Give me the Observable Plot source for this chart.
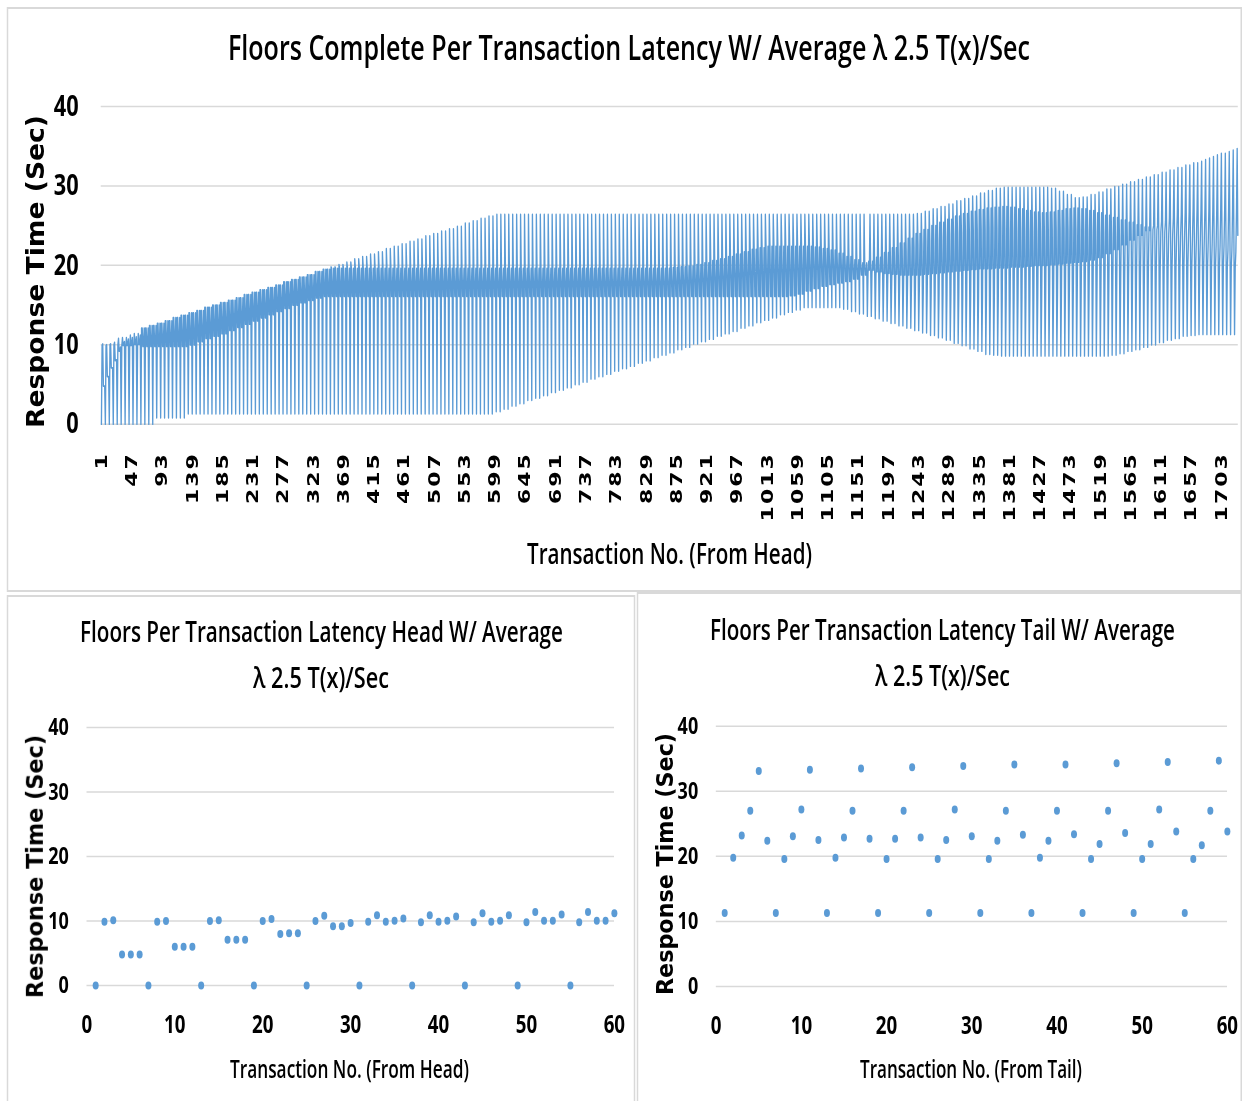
<!DOCTYPE html>
<html>
<head>
<meta charset="utf-8">
<script src="https://cdn.jsdelivr.net/npm/d3@7"></script>
<script src="https://cdn.jsdelivr.net/npm/@observablehq/plot@0.6"></script>
<style>
  html, body { margin: 0; padding: 0; background: #fff; overflow: hidden; }
  /* the figure is laid out wide and then compressed horizontally */
  #page { position: absolute; left: 0; top: 0; width: 1657.33px; height: 1101px;
          transform: scaleX(0.75); transform-origin: 0 0; }
  .panel { position: absolute; border: 2px solid #d9d9d9; box-sizing: border-box; }
  .chart { position: absolute; }
  .chart svg { overflow: visible; }
  #labels { position: absolute; left: 0; top: 0; overflow: visible; }
</style>
</head>
<body>
<div id="page">
  <div class="panel" style="left:9.33px;top:7px;width:1646.67px;height:585px"></div>
  <div class="panel" style="left:9.33px;top:595px;width:837.33px;height:520px"></div>
  <div class="panel" style="left:849.33px;top:592px;width:806.67px;height:520px"></div>
</div>
<script>
// ---------------------------------------------------------------
// Response time (sec) of the first 60 transactions, from the head
const headLatency = [
  0, 9.9, 10.1, 4.8, 4.8, 4.8,
  0, 9.9, 10.0, 6.0, 6.0, 6.0,
  0, 10.0, 10.1, 7.1, 7.1, 7.1,
  0, 10.0, 10.3, 8.0, 8.1, 8.1,
  0, 10.0, 10.8, 9.2, 9.2, 9.7,
  0, 9.9, 10.9, 9.9, 10.05, 10.4,
  0, 9.8, 10.9, 9.9, 10.05, 10.7,
  0, 9.8, 11.2, 9.9, 10.05, 10.9,
  0, 9.8, 11.4, 10.05, 10.05, 11.0,
  0, 9.8, 11.4, 10.05, 10.05, 11.2
];

// Response time (sec) of the last 60 transactions, from the tail
const tailLatency = [
  11.3, 19.8, 23.2, 27.0, 33.1, 22.4,
  11.3, 19.6, 23.1, 27.2, 33.3, 22.5,
  11.3, 19.8, 22.9, 27.0, 33.5, 22.7,
  11.3, 19.6, 22.7, 27.0, 33.7, 22.9,
  11.3, 19.6, 22.5, 27.2, 33.9, 23.1,
  11.3, 19.6, 22.4, 27.0, 34.1, 23.3,
  11.3, 19.8, 22.4, 27.0, 34.1, 23.4,
  11.3, 19.6, 21.9, 27.0, 34.3, 23.6,
  11.3, 19.6, 21.9, 27.2, 34.5, 23.8,
  11.3, 19.6, 21.7, 27.0, 34.7, 23.8
];

// Transactions 61..1668 arrive in cycles of six; the values below are one
// reading per pair of cycles (12 transactions), 134 pairs in all.

// first transaction of every cycle: the fastest floor (all 134 pairs)
const floorMin = [
  0, 0, 0.8, 0.8, 0.8, 0.8, 1.3, 1.3, 1.3, 1.3,
  1.3, 1.3, 1.3, 1.3, 1.3, 1.3, 1.3, 1.3, 1.3, 1.3,
  1.3, 1.3, 1.3, 1.3, 1.3, 1.3, 1.3, 1.3, 1.3, 1.3,
  1.3, 1.3, 1.3, 1.3, 1.3, 1.3, 1.3, 1.3, 1.3, 1.3,
  1.3, 1.3, 1.3, 1.3, 1.3, 1.6, 1.9, 2.3, 2.6, 3.0,
  3.3, 3.6, 4.0, 4.3, 4.6, 5.0, 5.3, 5.7, 6.0, 6.3,
  6.7, 7.0, 7.3, 7.7, 8.0, 8.4, 8.7, 9.0, 9.4, 9.7,
  10.1, 10.4, 10.7, 11.1, 11.4, 11.7, 12.1, 12.4, 12.8, 13.1,
  13.4, 13.8, 14.1, 14.4, 14.7, 14.7, 14.7, 14.7, 14.7, 14.5,
  14.2, 13.9, 13.6, 13.3, 13.0, 12.7, 12.4, 12.1, 11.8, 11.5,
  11.2, 10.9, 10.6, 10.2, 9.9, 9.5, 9.2, 8.8, 8.7, 8.6,
  8.6, 8.6, 8.6, 8.6, 8.6, 8.6, 8.6, 8.6, 8.6, 8.6,
  8.6, 8.6, 8.6, 8.7, 8.9, 9.2, 9.4, 9.7, 10.0, 10.3,
  10.6, 10.8, 11.1, 11.2
];

// pairs 0..91: slowest floor of the cycle, and the dense band it returns to
const midTop = [
  12.1, 12.4, 12.7, 13.0, 13.4, 13.7, 14.0, 14.3, 14.7, 15.0,
  15.3, 15.6, 15.9, 16.3, 16.6, 16.9, 17.2, 17.5, 17.9, 18.2,
  18.5, 18.8, 19.2, 19.5, 19.8, 20.1, 20.4, 20.8, 21.1, 21.4,
  21.7, 22.1, 22.4, 22.7, 23.0, 23.3, 23.7, 24.0, 24.3, 24.6,
  24.9, 25.3, 25.6, 25.9, 26.2, 26.4, 26.4, 26.4, 26.4, 26.4,
  26.4, 26.4, 26.4, 26.4, 26.4, 26.4, 26.4, 26.4, 26.4, 26.4,
  26.4, 26.4, 26.4, 26.4, 26.4, 26.4, 26.4, 26.4, 26.4, 26.4,
  26.4, 26.4, 26.4, 26.4, 26.4, 26.4, 26.4, 26.4, 26.4, 26.4,
  26.4, 26.4, 26.4, 26.4, 26.4, 26.4, 26.4, 26.4, 26.4, 26.4,
  26.4, 26.4
];
const bandHigh = [
  12.1, 12.4, 12.7, 13.0, 13.4, 13.7, 14.0, 14.3, 14.7, 15.0,
  15.3, 15.6, 15.9, 16.3, 16.6, 16.9, 17.2, 17.5, 17.9, 18.2,
  18.5, 18.8, 19.2, 19.5, 19.6, 19.6, 19.6, 19.6, 19.6, 19.6,
  19.6, 19.6, 19.6, 19.6, 19.6, 19.6, 19.6, 19.6, 19.6, 19.6,
  19.6, 19.6, 19.6, 19.6, 19.6, 19.6, 19.6, 19.6, 19.6, 19.6,
  19.6, 19.6, 19.6, 19.6, 19.6, 19.6, 19.6, 19.6, 19.6, 19.6,
  19.6, 19.6, 19.6, 19.6, 19.6, 19.6, 19.6, 19.7, 19.8, 19.9,
  20.1, 20.3, 20.6, 20.8, 21.1, 21.4, 21.7, 22.0, 22.2, 22.4,
  22.4, 22.4, 22.4, 22.4, 22.4, 22.3, 22.1, 21.9, 21.5, 21.1,
  20.7, 20.3
];
const bandLow = [
  9.8, 9.8, 9.8, 9.8, 9.8, 9.8, 10.0, 10.4, 10.8, 11.1,
  11.4, 11.8, 12.2, 12.6, 13.0, 13.4, 13.8, 14.2, 14.6, 15.0,
  15.3, 15.6, 15.9, 16.1, 16.1, 16.1, 16.1, 16.1, 16.1, 16.1,
  16.1, 16.1, 16.1, 16.1, 16.1, 16.1, 16.1, 16.1, 16.1, 16.1,
  16.1, 16.1, 16.1, 16.1, 16.1, 16.1, 16.1, 16.1, 16.1, 16.1,
  16.1, 16.1, 16.1, 16.1, 16.1, 16.1, 16.1, 16.1, 16.1, 16.1,
  16.1, 16.1, 16.1, 16.1, 16.1, 16.1, 16.1, 16.1, 16.1, 16.1,
  16.1, 16.1, 16.1, 16.1, 16.1, 16.1, 16.1, 16.1, 16.1, 16.1,
  16.1, 16.1, 16.2, 16.4, 16.8, 17.1, 17.4, 17.6, 17.8, 18.0,
  18.3, 18.8
];

// pairs 92..133: the cycle spreads out
const lateLow = [
  19.0, 18.6, 18.2, 17.8, 17.5, 17.2, 17.0, 16.8, 16.6, 16.5,
  16.4, 16.3, 16.2, 16.2, 16.1, 16.1, 16.0, 16.0, 16.0, 16.1,
  16.2, 16.3, 16.4, 16.6, 16.7, 16.8, 16.9, 17.0, 17.1, 17.3,
  17.5, 17.8, 18.1, 18.4, 18.7, 19.0, 19.2, 19.4, 19.5, 19.6,
  19.7, 19.7
];
const lateHigh = [
  20.5, 21.0, 21.6, 22.2, 22.8, 23.4, 24.0, 24.5, 25.0, 25.4,
  25.8, 26.2, 26.5, 26.8, 27.0, 27.2, 27.3, 27.4, 27.3, 27.1,
  26.9, 26.7, 26.6, 26.7, 26.9, 27.1, 27.2, 27.1, 26.9, 26.6,
  26.3, 26.0, 25.7, 25.4, 25.1, 24.8, 24.5, 24.2, 23.9, 23.6,
  23.4, 23.2
];
const lateLow2 = [
  19.4, 19.2, 19.0, 18.9, 18.8, 18.8, 18.8, 18.9, 19.0, 19.1,
  19.2, 19.3, 19.4, 19.5, 19.6, 19.6, 19.7, 19.7, 19.8, 19.8,
  19.9, 20.0, 20.0, 20.1, 20.2, 20.3, 20.4, 20.5, 20.7, 21.0,
  21.5, 22.0, 22.6, 23.2, 23.8, 24.4, 25.0, 25.5, 26.0, 26.4,
  26.7, 27.0
];
const lateTop = [
  26.4, 26.4, 26.4, 26.4, 26.4, 26.4, 26.5, 26.8, 27.1, 27.4,
  27.7, 28.1, 28.4, 28.7, 29.1, 29.4, 29.7, 29.8, 29.8, 29.8,
  29.8, 29.8, 29.8, 29.7, 29.3, 28.9, 28.5, 28.6, 28.9, 29.2,
  29.6, 29.9, 30.2, 30.5, 30.8, 31.1, 31.4, 31.7, 32.0, 32.3,
  32.6, 32.9
];
const lateHigh2 = [
  20.2, 20.6, 21.0, 21.4, 21.8, 22.2, 22.6, 23.0, 23.3, 23.6,
  23.9, 24.1, 24.3, 24.5, 24.6, 24.7, 24.7, 24.6, 24.5, 24.4,
  24.3, 24.3, 24.4, 24.5, 24.6, 24.6, 24.5, 24.4, 24.3, 24.1,
  23.9, 23.7, 23.5, 23.3, 23.1, 22.9, 22.8, 22.7, 22.6, 22.5,
  22.5, 22.5
];

// Axis ticks
const topTicks = [1, 47, 93, 139, 185, 231, 277, 323, 369, 415, 461, 507, 553,
  599, 645, 691, 737, 783, 829, 875, 921, 967, 1013, 1059, 1105, 1151, 1197,
  1243, 1289, 1335, 1381, 1427, 1473, 1519, 1565, 1611, 1657, 1703];
const yTicks = [0, 10, 20, 30, 40];
const xTicks60 = [0, 10, 20, 30, 40, 50, 60];

// Text
const titleTop = "Floors Complete Per Transaction Latency W/ Average λ 2.5 T(x)/Sec";
const titleHead = "Floors Per Transaction Latency Head W/ Average";
const titleTail = "Floors Per Transaction Latency Tail W/ Average";
const titleRate = "λ 2.5 T(x)/Sec";
const yTitle = "Response Time (Sec)";
const xTitleHead = "Transaction No. (From Head)";
const xTitleTail = "Transaction No. (From Tail)";

// ---------------------------------------------------------------
// Full run of 1728 transactions: head, the six-slot cycles, tail
const slots = [
  floorMin,
  midTop.concat(lateLow),
  bandHigh.concat(lateHigh),
  bandLow.concat(lateLow2),
  bandLow.concat(lateTop),
  bandHigh.concat(lateHigh2)
];
const latency = headLatency.slice();
for (let p = 0; p < floorMin.length; p++)
  for (let c = 0; c < 2; c++)
    for (let s = 0; s < 6; s++) latency.push(slots[s][p]);
latency.push(...tailLatency);
const series = latency.map((v, i) => ({tx: i + 1, v}));

const blue = "#5B9BD5";
const gridColor = "#d9d9d9";
const numFont = "'Open Sans', Roboto, 'Liberation Sans', sans-serif";
const titleFont = "'Open Sans', Lato, 'Liberation Sans', sans-serif";
const S = 0.75;                  // horizontal compression of #page
const W = 1243 / S;              // page width before compression
const page = document.getElementById("page");

function place(svg, left, top) {
  const div = document.createElement("div");
  div.className = "chart";
  div.style.left = left + "px";
  div.style.top = top + "px";
  div.appendChild(svg);
  page.appendChild(div);
}

// Complete run
const topChart = Plot.plot({
  width: W, height: 600,
  marginLeft: 100.7 / S, marginRight: W - 1237.8 / S,
  marginTop: 106, marginBottom: 600 - 423.7,
  x: {domain: [0.5, 1728.5]},
  y: {domain: [0, 40]},
  style: {background: "transparent"},
  marks: [
    Plot.ruleY(yTicks, {stroke: gridColor, strokeWidth: 1.5}),
    Plot.axisY({ticks: yTicks, tickSize: 0, tickPadding: 30, label: null,
      fontSize: 29, fontWeight: 700, fontFamily: numFont}),
    Plot.axisX({ticks: topTicks, tickSize: 0, tickRotate: -90, tickPadding: 28,
      tickFormat: d => String(d), label: null,
      fontSize: 22, fontWeight: "bold", fontFamily: "DejaVu Sans"}),
    Plot.line(series, {x: "tx", y: "v", stroke: blue, strokeWidth: 1.8})
  ]
});
d3.select(topChart).selectAll("g[aria-label='x-axis tick label'] text")
  .style("letter-spacing", "2px");
place(topChart, 0, 0);

// First 60 transactions
const headChart = Plot.plot({
  width: 848, height: 380,
  marginLeft: 86.5 / S, marginRight: 848 - 614 / S,
  marginTop: 27, marginBottom: 95,
  x: {domain: [0, 60]},
  y: {domain: [0, 40]},
  style: {background: "transparent"},
  marks: [
    Plot.ruleY(yTicks, {stroke: gridColor, strokeWidth: 1.5}),
    Plot.axisY({ticks: yTicks, tickSize: 0, tickPadding: 24, label: null,
      fontSize: 24, fontWeight: 700, fontFamily: numFont}),
    Plot.axisX({ticks: xTicks60, tickSize: 0, tickPadding: 30, label: null,
      fontSize: 25, fontWeight: 700, fontFamily: numFont}),
    Plot.dot(headLatency, {x: (d, i) => i + 1, y: d => d, r: 4, fill: blue})
  ]
});
place(headChart, 0, 700);

// Last 60 transactions
const tailLeft = 636 / S;
const tailChart = Plot.plot({
  width: W - tailLeft, height: 380,
  marginLeft: 715.8 / S - tailLeft, marginRight: W - 1227 / S,
  marginTop: 25.7, marginBottom: 94,
  x: {domain: [0, 60]},
  y: {domain: [0, 40]},
  style: {background: "transparent"},
  marks: [
    Plot.ruleY(yTicks, {stroke: gridColor, strokeWidth: 1.5}),
    Plot.axisY({ticks: yTicks, tickSize: 0, tickPadding: 24, label: null,
      fontSize: 24, fontWeight: 700, fontFamily: numFont}),
    Plot.axisX({ticks: xTicks60, tickSize: 0, tickPadding: 30, label: null,
      fontSize: 25, fontWeight: 700, fontFamily: numFont}),
    Plot.dot(tailLatency, {x: (d, i) => i + 1, y: d => d, r: 4, fill: blue})
  ]
});
place(tailChart, tailLeft, 700);

// Titles and axis titles
const labels = d3.select(page).append("svg")
  .attr("id", "labels").attr("width", W).attr("height", 1101);

function label(text, x, y, size, length, opts = {}) {
  const t = labels.append("text")
    .attr("x", x).attr("y", y)
    .attr("text-anchor", "middle")
    .attr("font-family", opts.family || titleFont)
    .attr("font-weight", opts.weight || 600)
    .attr("font-size", size)
    .attr("fill", "#000")
    .attr("textLength", length)
    .attr("lengthAdjust", "spacingAndGlyphs")
    .text(text);
  if (opts.rotate) t.attr("transform", `rotate(-90, ${x}, ${y})`);
}
const vertical = {family: "DejaVu Sans", weight: "bold", rotate: true};

label(titleTop, 629 / S, 60, 35, 802 / S);
label(xTitleHead, 669.5 / S, 564, 29, 285 / S);
label(yTitle, 44 / S, 271.5, 33, 313, vertical);

label(titleHead, 321.5 / S, 642, 29, 483 / S);
label(titleRate, 321 / S, 688, 29, 136 / S);
label(xTitleHead, 349.5 / S, 1078, 25, 239 / S);
label(yTitle, 43 / S, 866.5, 31, 263, vertical);

label(titleTail, 942.5 / S, 640, 29, 465 / S);
label(titleRate, 942.5 / S, 686, 29, 135 / S);
label(xTitleTail, 971 / S, 1078, 25, 222 / S);
label(yTitle, 673 / S, 864, 31, 262, vertical);
</script>
</body>
</html>
